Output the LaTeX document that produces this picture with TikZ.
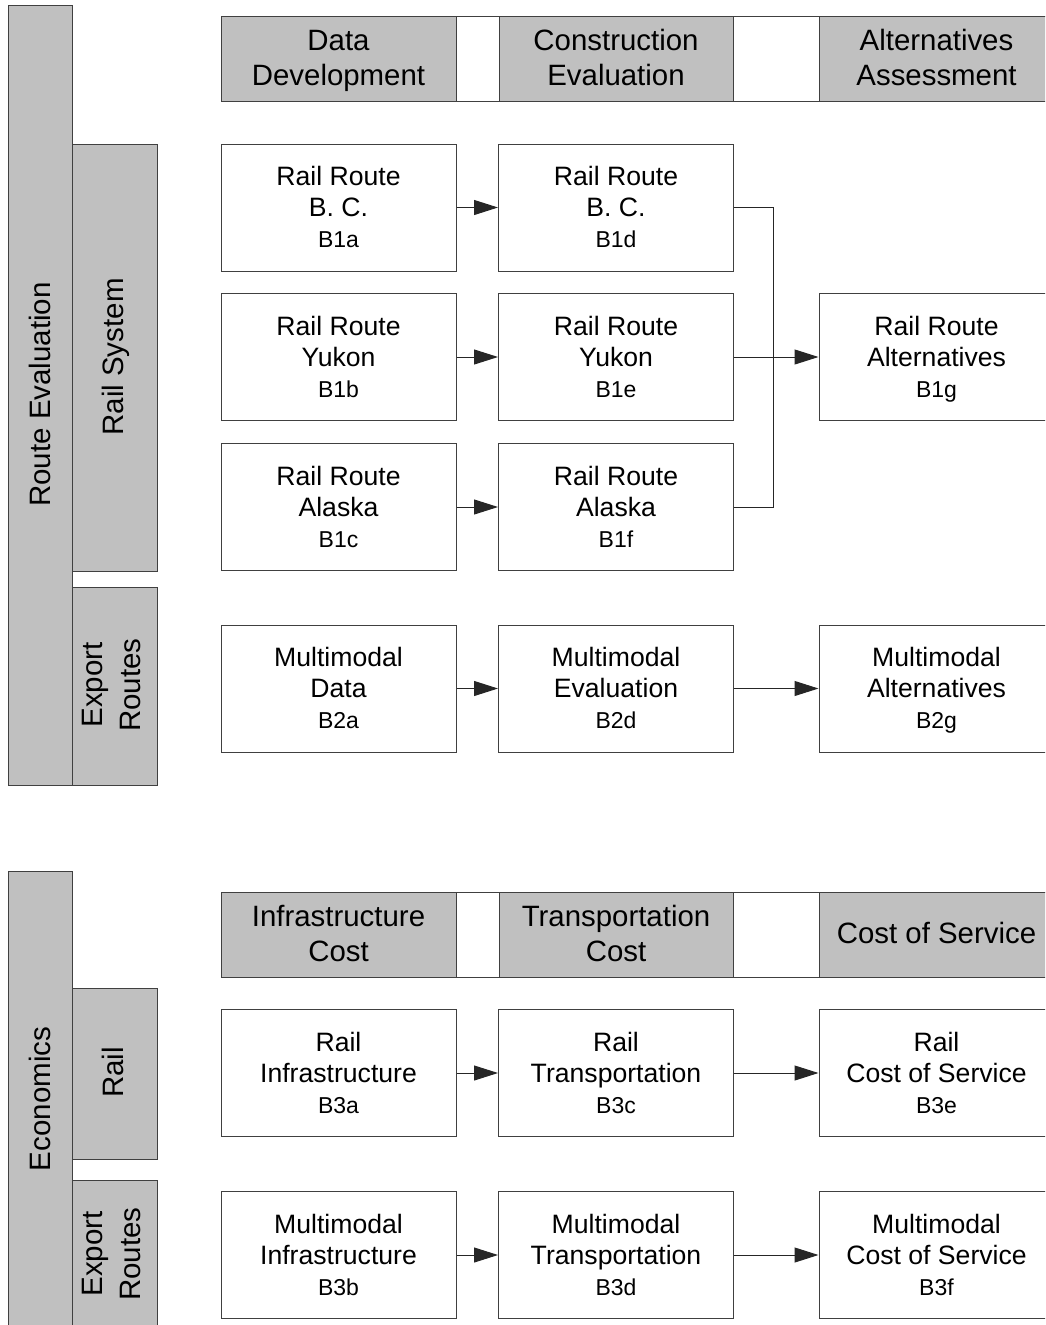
\documentclass[tikz,border=0pt]{standalone}
\usepackage{fontspec}
\setmainfont{Liberation Sans}
\usetikzlibrary{arrows.meta}
\definecolor{gfill}{HTML}{C0C0C0}
\definecolor{linec}{HTML}{404040}
\tikzset{
  box/.style={draw=linec, line width=1pt, fill=white, minimum width=235pt, minimum height=127pt, inner sep=0pt, align=center, text height=80pt, text depth=0pt, font=\fontsize{26.6}{31}\selectfont},
  hdr/.style={draw=linec, line width=1pt, fill=gfill, minimum height=85pt, inner sep=0pt, align=center, text height=53pt, text depth=0pt, font=\fontsize{29.4}{34.3}\selectfont},
  gap/.style={draw=linec, line width=1pt, fill=white, minimum height=85pt, inner sep=0pt},
  side/.style={draw=linec, line width=1pt, fill=gfill},
  sidelab/.style={rotate=90, align=center, inner sep=0pt, text height=22pt, text depth=0pt, font=\fontsize{29.5}{38}\selectfont},
  arr/.style={draw=black!85, line width=1pt, -{Triangle[length=24pt,width=15pt]}},
  conn/.style={draw=black!85, line width=1pt},
}
\newcommand{\code}[1]{{\fontsize{23}{31}\selectfont #1}}
\begin{document}
\begin{tikzpicture}[x=1pt,y=-1pt]
\useasboundingbox (0,0) rectangle (1045,1325);
\clip (0,0) rectangle (1045,1325);
\fill[white] (0,0) rectangle (1045,1325);

% ---- side bars, upper
\draw[side] (8,5) rectangle (72,785);
\node[sidelab] (lre) at (39,394.5) {Route Evaluation};
\draw[side] (72,144) rectangle (157,571);
\node[sidelab] (lrs) at (112,357) {Rail System};
\draw[side] (72,587) rectangle (157,785);
\node[sidelab, text height=60pt] (ler1) at (110,685) {Export\\Routes};

% ---- side bars, lower
\draw[side] (8,871) rectangle (72,1332);
\node[sidelab] (lec) at (39,1099) {Economics};
\draw[side] (72,988) rectangle (157,1159);
\node[sidelab] (lrl) at (112,1072.5) {Rail};
\draw[side] (72,1180) rectangle (157,1332);
\node[sidelab, text height=60pt] (ler2) at (110,1254) {Export\\Routes};

% ---- header upper
\node[gap, minimum width=43pt] (g1) at (477.5,58.5) {};
\node[gap, minimum width=86pt] (g2) at (776,58.5) {};
\node[hdr, minimum width=235pt] (h1) at (338.5,58.5) {Data\\Development};
\node[hdr, minimum width=234pt] (h2) at (616,58.5) {Construction\\Evaluation};
\node[hdr, minimum width=235pt] (h3) at (936.5,58.5) {Alternatives\\Assessment};

% ---- header lower
\node[gap, minimum width=43pt] (g3) at (477.5,934.5) {};
\node[gap, minimum width=86pt] (g4) at (776,934.5) {};
\node[hdr, minimum width=235pt] (h4) at (338.5,934.5) {Infrastructure\\Cost};
\node[hdr, minimum width=234pt] (h5) at (616,934.5) {Transportation\\Cost};
\node[hdr, minimum width=235pt, text height=18pt] (h6) at (936.5,934.5) {Cost of Service};

% ---- boxes upper
\node[box] (b1a) at (338.5,207.5) {Rail Route\\B. C.\\\code{B1a}};
\node[box] (b1d) at (616,207.5) {Rail Route\\B. C.\\\code{B1d}};
\node[box] (b1b) at (338.5,357) {Rail Route\\Yukon\\\code{B1b}};
\node[box] (b1e) at (616,357) {Rail Route\\Yukon\\\code{B1e}};
\node[box] (b1g) at (936.5,357) {Rail Route\\Alternatives\\\code{B1g}};
\node[box] (b1c) at (338.5,507) {Rail Route\\Alaska\\\code{B1c}};
\node[box] (b1f) at (616,507) {Rail Route\\Alaska\\\code{B1f}};
\node[box] (b2a) at (338.5,688.5) {Multimodal\\Data\\\code{B2a}};
\node[box] (b2d) at (616,688.5) {Multimodal\\Evaluation\\\code{B2d}};
\node[box] (b2g) at (936.5,688.5) {Multimodal\\Alternatives\\\code{B2g}};

% ---- boxes lower
\node[box] (b3a) at (338.5,1073) {Rail\\Infrastructure\\\code{B3a}};
\node[box] (b3c) at (616,1073) {Rail\\Transportation\\\code{B3c}};
\node[box] (b3e) at (936.5,1073) {Rail\\Cost of Service\\\code{B3e}};
\node[box] (b3b) at (338.5,1255) {Multimodal\\Infrastructure\\\code{B3b}};
\node[box] (b3d) at (616,1255) {Multimodal\\Transportation\\\code{B3d}};
\node[box] (b3f) at (936.5,1255) {Multimodal\\Cost of Service\\\code{B3f}};

% ---- connectors
\draw[arr] (b1a.east) -- (b1d.west);
\draw[arr] (b1b.east) -- (b1e.west);
\draw[arr] (b1c.east) -- (b1f.west);
\coordinate (j1) at (773.5,207.5);
\coordinate (j3) at (773.5,507);
\draw[conn] (b1d.east) -- (j1) -- (j3) -- (b1f.east);
\draw[arr] (b1e.east) -- (b1g.west);
\draw[arr] (b2a.east) -- (b2d.west);
\draw[arr] (b2d.east) -- (b2g.west);
\draw[arr] (b3a.east) -- (b3c.west);
\draw[arr] (b3c.east) -- (b3e.west);
\draw[arr] (b3b.east) -- (b3d.west);
\draw[arr] (b3d.east) -- (b3f.west);
\end{tikzpicture}
\end{document}
